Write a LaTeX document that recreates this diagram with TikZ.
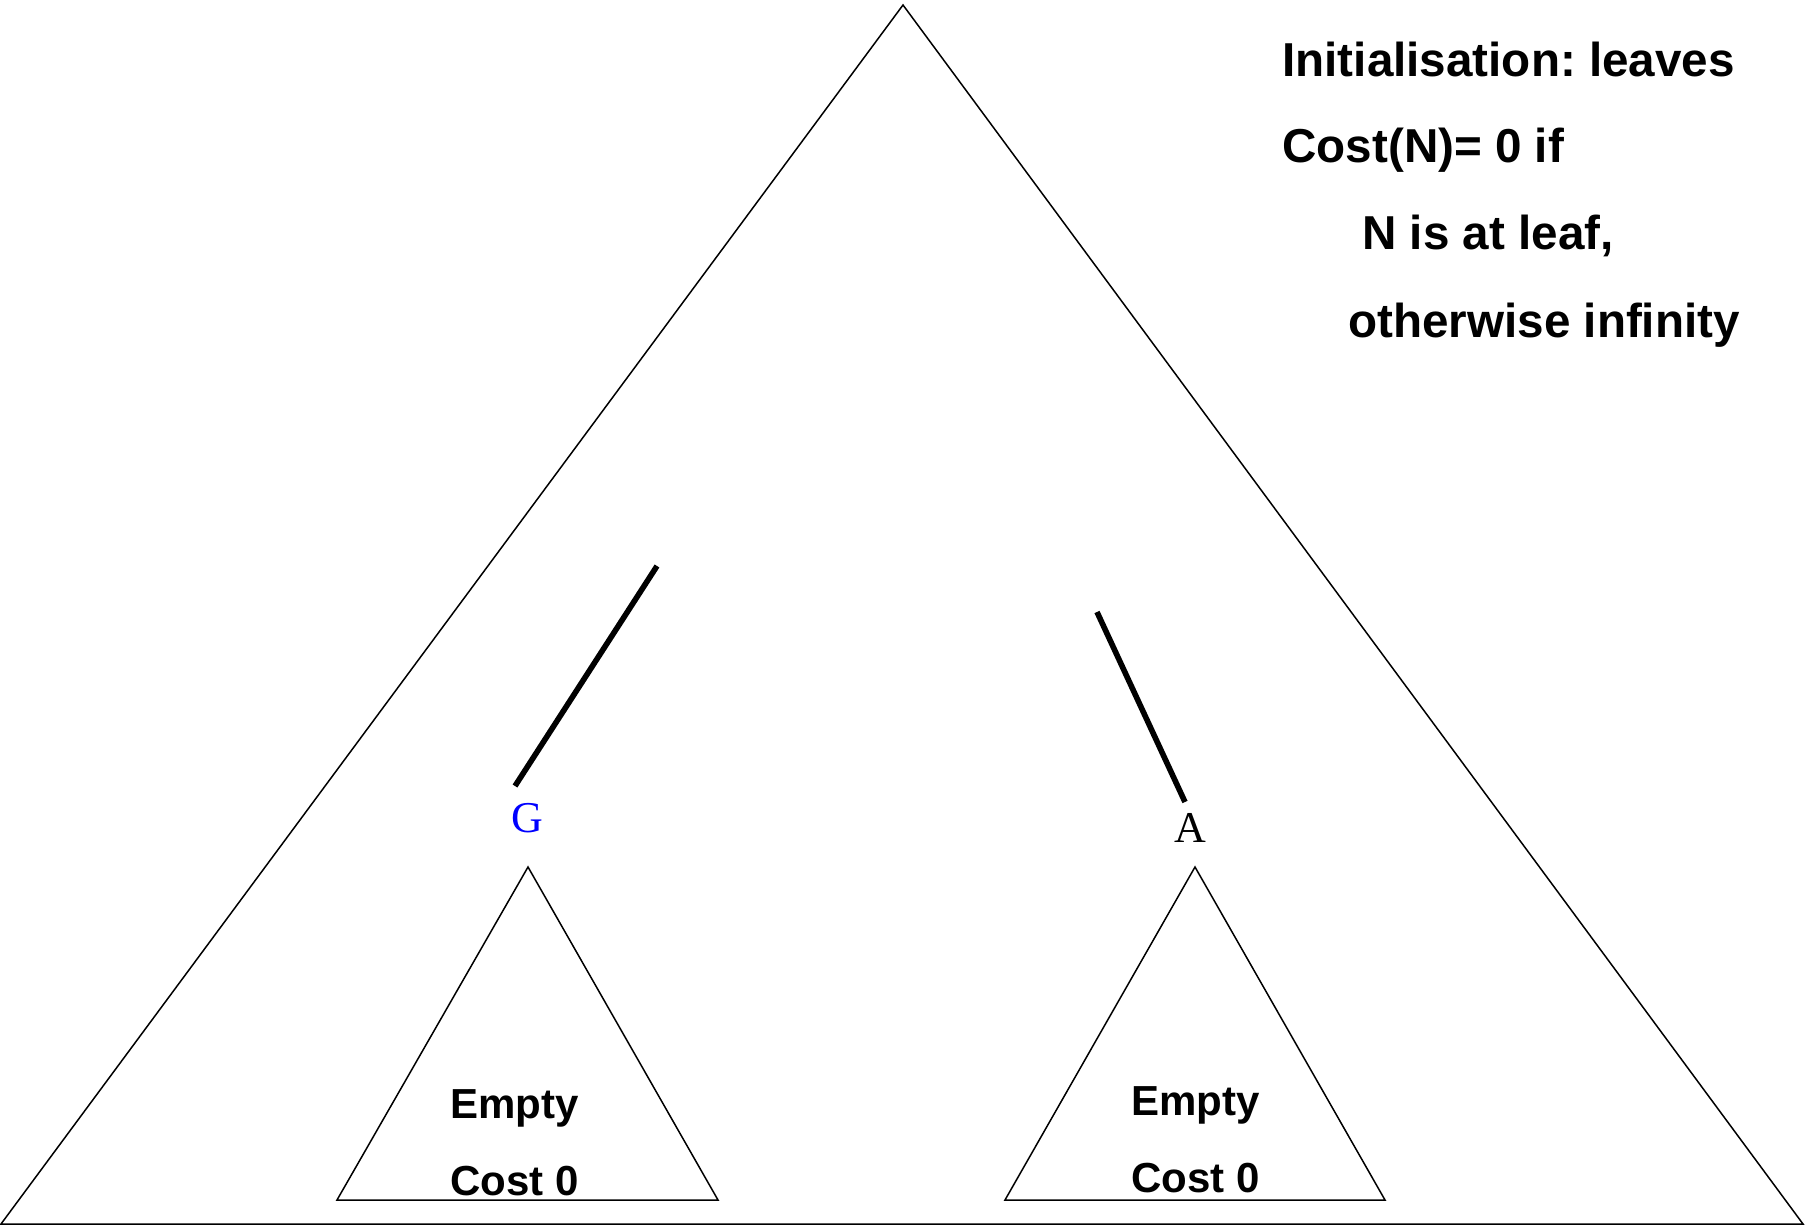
\documentclass[tikz,border=0pt]{standalone}
\usepackage{fontspec}
\setmainfont{Liberation Sans}
\newfontfamily\serifface{Liberation Serif}
\definecolor{gblue}{RGB}{0,0,255}
\frenchspacing
\tikzset{
  outline/.style={draw=black,line width=0.75pt,line join=miter},
  thickedge/.style={draw=black,line width=2.8pt},
  note/.style={font=\fontsize{23.8}{23.8}\selectfont\bfseries,anchor=base west,inner sep=0pt},
  leaftext/.style={font=\fontsize{21}{21}\selectfont\bfseries,anchor=base west,inner sep=0pt},
  nodelabel/.style={font=\serifface\fontsize{22}{22}\selectfont,anchor=base,inner sep=0pt},
}
\begin{document}
\begin{tikzpicture}[x=0.5pt,y=-0.5pt]
\useasboundingbox (0,0) rectangle (1805,1225);
% big triangle
\coordinate (top) at (903,5);
\coordinate (bl) at (1,1224);
\coordinate (br) at (1803,1224);
\draw[outline] (top) -- (br) -- (bl) -- cycle;
% small triangles
\coordinate (gtop) at (528,867);
\coordinate (gl) at (337,1200);
\coordinate (gr) at (718,1200);
\draw[outline] (gtop) -- (gr) -- (gl) -- cycle;
\coordinate (atop) at (1195,867);
\coordinate (al) at (1005,1200);
\coordinate (ar) at (1385,1200);
\draw[outline] (atop) -- (ar) -- (al) -- cycle;
% labels
\node[nodelabel,text=gblue] (G) at (527,832) {G};
\node[nodelabel] (A) at (1190,842) {A};
% thick edges
\coordinate (g1) at (515,786);
\coordinate (g2) at (657,566);
\draw[thickedge] (g1) -- (g2);
\coordinate (a1) at (1097,612);
\coordinate (a2) at (1185,802);
\draw[thickedge] (a1) -- (a2);
% leaf texts
\node[leaftext] (ge) at (450,1118) {Empty};
\node[leaftext] (gc) at (450,1195) {Cost 0};
\node[leaftext] (ae) at (1131,1115) {Empty};
\node[leaftext] (ac) at (1131,1192) {Cost 0};
% notes
\node[note] (n1) at (1282,77) {Initialisation: leaves};
\node[note] (n2) at (1282,163) {Cost(N)= 0 if};
\node[note] (n3) at (1362,250) {N is at leaf,};
\node[note] (n4) at (1348,337) {otherwise infinity};
\end{tikzpicture}
\end{document}
